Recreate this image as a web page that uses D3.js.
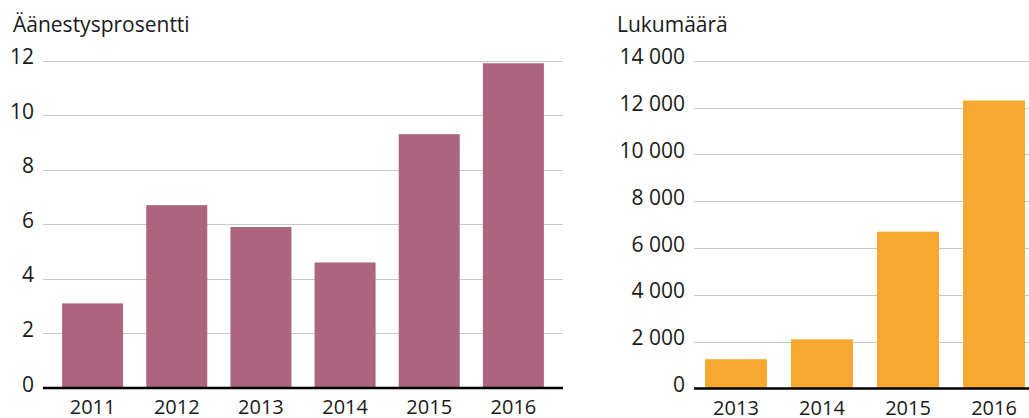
<!DOCTYPE html>
<html>
<head>
<meta charset="utf-8">
<script src="https://cdn.jsdelivr.net/npm/d3@7"></script>
<style>
  html, body { margin: 0; padding: 0; background: #fff; }
  svg { display: block; }
  svg text { font-family: "Open Sans", "Noto Sans", sans-serif; }
</style>
</head>
<body>
<svg id="chart" width="1029" height="418"></svg>
<script>
// Voter turnout (%) by year
const turnoutYears = ["2011", "2012", "2013", "2014", "2015", "2016"];
const turnoutValues = [3.1, 6.7, 5.9, 4.6, 9.3, 11.9];
const turnoutTicks = [0, 2, 4, 6, 8, 10, 12];

// Number of voters by year
const countYears = ["2013", "2014", "2015", "2016"];
const countValues = [1250, 2100, 6700, 12300];
const countTicks = [0, 2000, 4000, 6000, 8000, 10000, 12000, 14000];

const svg = d3.select("#chart");
const textColor = "#1a1a1a";
const gridColor = "#c8c8c8";

// Finnish-style thousands separator (space)
const fmtThousands = v => d3.format(",")(v).replace(/,/g, " ");

function drawPanel(opts) {
  const g = svg.append("g");
  const y = d3.scaleLinear().domain(opts.domain).range([opts.y0, opts.y1]);
  const x = d3.scaleBand()
    .domain(opts.categories)
    .range(opts.bandRange)
    .paddingInner(opts.padInner)
    .paddingOuter(opts.padOuter);

  // title
  g.append("text")
    .attr("x", opts.titleX).attr("y", 31.5)
    .attr("font-size", 21).attr("fill", textColor)
    .text(opts.title);

  // y labels
  const yAxis = d3.axisLeft(y).tickValues(opts.ticks).tickSize(0).tickFormat(opts.fmt);
  const ya = g.append("g").attr("transform", `translate(${opts.gridX0 - 9},0)`).call(yAxis)
    .attr("font-family", null).attr("font-size", null);
  ya.select(".domain").remove();
  ya.selectAll("text")
    .attr("font-size", 21).attr("fill", textColor)
    .attr("x", 0).attr("dy", 3)
    .attr("text-anchor", "end")
    .style("white-space", "pre");

  // horizontal grid
  g.append("g").selectAll("line")
    .data(opts.ticks.filter(t => t !== 0))
    .join("line")
    .attr("x1", opts.gridX0).attr("x2", opts.gridX1)
    .attr("y1", d => Math.round(y(d)) + 0.5).attr("y2", d => Math.round(y(d)) + 0.5)
    .attr("stroke", gridColor).attr("stroke-width", 1);

  // bars
  g.append("g").selectAll("rect")
    .data(opts.values)
    .join("rect")
    .attr("x", (d, i) => x(opts.categories[i]))
    .attr("width", x.bandwidth())
    .attr("y", d => y(d))
    .attr("height", d => y(0) - y(d))
    .attr("fill", opts.color);

  // baseline
  g.append("line")
    .attr("x1", opts.gridX0).attr("x2", opts.gridX1)
    .attr("y1", y(0)).attr("y2", y(0))
    .attr("stroke", "#000").attr("stroke-width", 2.5);

  // x labels
  const xAxis = d3.axisBottom(x).tickSize(0);
  const xa = g.append("g").attr("transform", `translate(0,${y(0)})`).call(xAxis)
    .attr("font-family", null).attr("font-size", null);
  xa.select(".domain").remove();
  xa.selectAll("text")
    .attr("font-size", 20).attr("fill", textColor)
    .attr("y", 0).attr("dy", 26);
}

drawPanel({
  title: "Äänestysprosentti",
  titleX: 13,
  categories: turnoutYears,
  values: turnoutValues,
  ticks: turnoutTicks,
  domain: [0, 12],
  y0: 388, y1: 60.5,
  gridX0: 43, gridX1: 563,
  bandRange: [43, 563],
  padInner: 0.275, padOuter: 0.227,
  color: "#ad657f",
  fmt: d3.format("d")
});

drawPanel({
  title: "Lukumäärä",
  titleX: 617,
  categories: countYears,
  values: countValues,
  ticks: countTicks,
  domain: [0, 14000],
  y0: 388.5, y1: 60.7,
  gridX0: 694, gridX1: 1029,
  bandRange: [694, 1036],
  padInner: 0.28, padOuter: 0.128,
  color: "#f6a830",
  fmt: fmtThousands
});
</script>
</body>
</html>
